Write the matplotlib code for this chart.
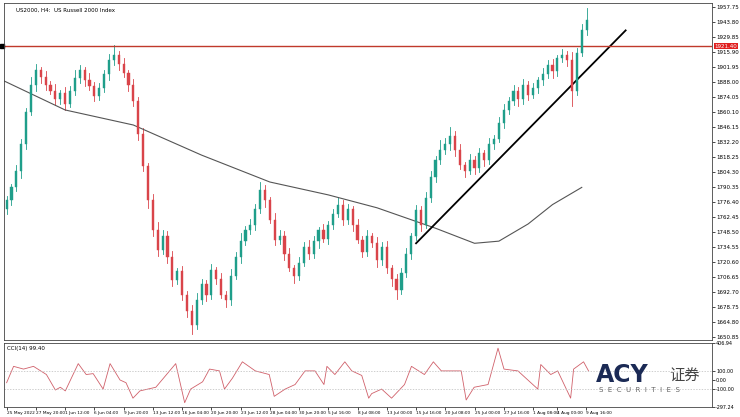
import matplotlib.pyplot as plt
from matplotlib.patches import Rectangle

closes = [1778, 1790, 1805, 1830, 1860, 1885, 1899, 1893, 1885, 1880,
          1872, 1878, 1868, 1880, 1892, 1899, 1890, 1884, 1875, 1882,
          1895, 1908, 1913, 1905, 1896, 1885, 1870, 1840, 1810, 1778,
          1750, 1732, 1745, 1725, 1704, 1712, 1690, 1675, 1662, 1685,
          1700, 1690, 1713, 1705, 1690, 1685, 1708, 1725, 1740, 1750,
          1755, 1770, 1788, 1778, 1760, 1741, 1745, 1728, 1715, 1708,
          1720, 1735, 1728, 1740, 1750, 1742, 1755, 1765, 1774, 1760,
          1770, 1755, 1741, 1730, 1745, 1738, 1722, 1735, 1715, 1705,
          1695, 1710, 1728, 1745, 1769, 1755, 1780, 1800, 1815, 1825,
          1830, 1838, 1825, 1811, 1805, 1815, 1808, 1822, 1815, 1830,
          1835, 1850, 1862, 1870, 1880, 1872, 1885, 1876, 1882, 1890,
          1895, 1904, 1898, 1910, 1913, 1908, 1880, 1915, 1936, 1946]
first_open = 1770
upper_wick = [4, 3, 6, 5, 4, 8, 6, 3, 5, 4, 6, 3, 5, 4, 7, 5, 3, 6, 4, 5,
              4, 6, 9, 4, 5, 3, 6, 4, 5, 3, 6, 8, 5, 4, 6, 3, 5, 4, 6, 7,
              5, 4, 6, 3, 5, 4, 6, 5, 8, 4, 6, 5, 7, 4, 3, 6, 5, 4, 6, 3,
              5, 4, 6, 5, 3, 6, 4, 5, 7, 4, 5, 3, 6, 4, 5, 3, 6, 4, 5, 3,
              4, 5, 6, 3, 5, 4, 6, 5, 4, 9, 6, 8, 4, 5, 3, 6, 4, 5, 3, 6,
              4, 5, 6, 4, 5, 3, 6, 4, 5, 3, 6, 4, 5, 3, 6, 4, 8, 5, 6, 11]
lower_wick = [5, 4, 3, 6, 4, 3, 5, 6, 4, 3, 5, 4, 6, 3, 4, 5, 6, 3, 5, 4,
              3, 5, 4, 6, 3, 5, 4, 6, 5, 7, 5, 6, 4, 5, 6, 4, 5, 6, 8, 4,
              3, 6, 4, 5, 3, 6, 4, 3, 5, 4, 3, 5, 4, 6, 3, 5, 4, 6, 3, 7,
              4, 3, 5, 4, 6, 3, 5, 4, 3, 5, 4, 6, 3, 5, 4, 3, 6, 4, 5, 7,
              9, 4, 3, 5, 4, 6, 3, 4, 5, 3, 4, 5, 6, 4, 5, 3, 6, 4, 5, 3,
              4, 3, 5, 4, 3, 6, 4, 5, 3, 4, 5, 3, 6, 4, 3, 5, 14, 4, 3, 4]

ma_pos = [-1, 12, 26, 40, 54, 66, 76, 88, 96, 101, 107, 112, 118]
ma_val = [1890, 1862, 1848, 1820, 1795, 1783, 1771, 1752, 1738, 1740, 1756, 1774, 1790]

trend_x = [84, 127]
trend_y = [1738, 1936]
level = 1921.40

cci_px = [3, 10, 20, 30, 43, 52, 57, 62, 75, 83, 90, 100, 107, 117, 123, 130, 137, 153,
          173, 182, 188, 200, 207, 217, 222, 230, 240, 253, 267, 272, 283, 293, 303, 313,
          322, 325, 333, 343, 350, 360, 367, 370, 380, 390, 403, 410, 423, 432, 440, 460,
          465, 473, 487, 497, 503, 517, 537, 540, 550, 557, 570, 573, 583, 588]
cci_val = [-30, 150, 120, 150, 60, -110, -80, -120, 180, 60, 70, -100, 180, 0, -30, -200, -120, -80,
           180, -250, -100, -20, 120, 100, -100, 20, 200, 100, 60, -180, -100, -50, 100, 100,
           -50, 150, 60, 200, 100, 50, -200, -150, -100, -200, -50, 150, 60, 200, 100, 100,
           -220, -80, -50, 350, 120, 100, -100, 170, 60, 100, -200, 120, 200, 100]

tick_pos = [0, 6, 12, 18, 24, 30, 36, 42, 48, 54, 60, 66, 72, 78, 84, 90, 96, 102, 108, 113, 118.8]
tick_lab = ["25 May 2022", "27 May 20:00", "1 Jun 12:00", "6 Jun 04:00", "9 Jun 20:00",
            "13 Jun 12:00", "16 Jun 04:00", "20 Jun 20:00", "23 Jun 12:00", "28 Jun 04:00",
            "30 Jun 20:00", "5 Jul 16:00", "8 Jul 08:00", "13 Jul 00:00", "15 Jul 16:00",
            "20 Jul 08:00", "25 Jul 00:00", "27 Jul 16:00", "1 Aug 08:00", "4 Aug 00:00",
            "9 Aug 16:00"]
price_ticks = [1957.75 - 13.95 * k for k in range(23)]

plt.rcParams["font.family"] = ["DejaVu Sans", "Noto Sans CJK SC"]
fig = plt.figure(figsize=(7.4, 4.17), dpi=100)
ax = fig.add_axes([0.005, 1 - 340 / 417, 0.957, 337 / 417])
cx = fig.add_axes([0.005, 1 - 407 / 417, 0.957, 64 / 417])

up_col, dn_col = "#1f9e8a", "#d9444a"
prev = first_open
for i, c in enumerate(closes):
    o = prev
    hi = max(o, c) + upper_wick[i]
    lo = min(o, c) - lower_wick[i]
    col = up_col if c >= o else dn_col
    ax.plot([i, i], [lo, hi], color=col, lw=0.6, zorder=2)
    ax.add_patch(Rectangle((i - 0.22, min(o, c)), 0.44, max(abs(c - o), 0.8),
                           facecolor=col, edgecolor=col, lw=0.3, zorder=3))
    prev = c

ax.plot(ma_pos, ma_val, color="#555555", lw=0.8)
ax.plot(trend_x, trend_y, color="black", lw=1.3)
ax.axhline(level, color="#c0392b", lw=1.0)
ax.plot(-0.9, level, marker="s", color="black", ms=3, clip_on=False)

xmax = (712 - 3) / 4.9
ax.set_xlim(-0.6, xmax)
ax.set_ylim(1957.75 - 333 * 0.93, 1957.75 + 4 * 0.93)
ax.yaxis.tick_right()
ax.set_yticks(price_ticks)
ax.set_yticklabels([f"{v:.2f}" for v in price_ticks], fontsize=4)
ax.set_xticks([])
ax.tick_params(axis="y", length=2, width=0.5, pad=1)
ax.annotate(f"{level:.2f}", xy=(1, level), xycoords=("axes fraction", "data"),
            xytext=(2, 0), textcoords="offset points", fontsize=4, color="white",
            va="center", bbox=dict(boxstyle="square,pad=0.15", fc="#e02020", ec="none"))
ax.text(0.018, 0.985, "US2000, H4:  US Russell 2000 Index", transform=ax.transAxes,
        fontsize=4, va="top")

cx.plot([(p - 3) / 4.9 for p in cci_px], cci_val, color="#d0606a", lw=0.6)
for v in (100, -100):
    cx.axhline(v, color="#bbbbbb", lw=0.5, ls=(0, (2, 2)))
cx.set_xlim(-0.6, xmax)
cx.set_ylim(-297.24, 406.94)
cx.yaxis.tick_right()
cx.set_yticks([406.94, 100, 0, -100, -297.24])
cx.set_yticklabels(["406.94", "100.00", "0.00", "-100.00", "-297.24"], fontsize=3.5)
cx.set_xticks(tick_pos)
cx.set_xticklabels(tick_lab, fontsize=3.1, ha="left")
cx.tick_params(length=2, width=0.5, pad=1)
cx.text(0.005, 0.95, "CCI(14) 99.40", transform=cx.transAxes, fontsize=4, va="top")

for a in (ax, cx):
    for s in a.spines.values():
        s.set_linewidth(0.6)
        s.set_color("#444444")

fig.text(0.805, 0.085, "ACY", fontsize=17, fontweight="bold", color="#1b2a55")
fig.text(0.905, 0.09, "证券", fontsize=11, color="#444444", family=["Noto Sans CJK SC"])
fig.text(0.81, 0.06, "S  E  C  U  R  I  T  I  E  S", fontsize=5, color="#666666")

fig.savefig("out.png", dpi=100)
